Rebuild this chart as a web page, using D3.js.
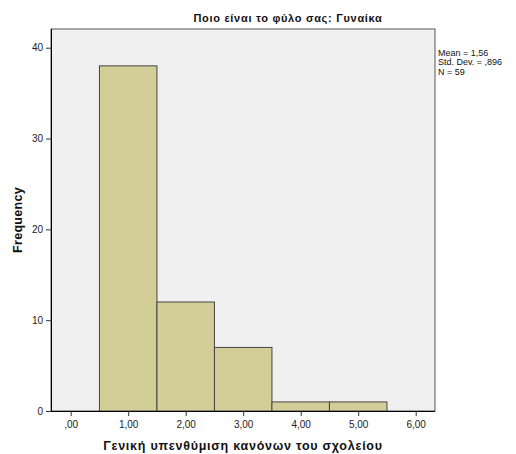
<!DOCTYPE html>
<html><head><meta charset="utf-8">
<script src="https://cdn.jsdelivr.net/npm/d3@7"></script>
<style>body{margin:0;background:#fff;} text{font-family:"Liberation Sans",Arial,sans-serif;}</style>
</head><body>
<svg id="c" width="516" height="454"></svg>
<script>
const binStarts = [0.5, 1.5, 2.5, 3.5, 4.5];
const binEnds = [1.5, 2.5, 3.5, 4.5, 5.5];
const frequencies = [38, 12, 7, 1, 1];
const xTicks = [0, 1, 2, 3, 4, 5, 6];
const xTickLabels = [",00", "1,00", "2,00", "3,00", "4,00", "5,00", "6,00"];
const yTicks = [0, 10, 20, 30, 40];
const statsLines = ["Mean = 1,56", "Std. Dev. = ,896", "N = 59"];
const title = "Ποιο είναι το φύλο σας: Γυναίκα";
const xTitle = "Γενική υπενθύμιση κανόνων του σχολείου";
const yTitle = "Frequency";

const svg = d3.select("#c");
const L = 51, R = 435, T = 29, B = 411;
const x = d3.scaleLinear().domain([0, 6]).range([70.7, 415.7]);
const y = d3.scaleLinear().domain([0, 40]).range([B, 47.7]);

svg.append("rect").attr("x", L).attr("y", T).attr("width", R - L).attr("height", B - T)
  .attr("fill", "#f0f0f0").attr("stroke", "#555").attr("stroke-width", 1);

svg.append("g").selectAll("rect").data(frequencies).join("rect")
  .attr("x", (d, i) => x(binStarts[i]))
  .attr("width", (d, i) => x(binEnds[i]) - x(binStarts[i]))
  .attr("y", d => y(d))
  .attr("height", d => B - y(d))
  .attr("fill", "#d3ce97").attr("stroke", "#444").attr("stroke-width", 1);

const xa = svg.append("g").attr("transform", `translate(0,${B})`)
  .call(d3.axisBottom(x).tickValues(xTicks).tickSize(5).tickSizeOuter(0)
    .tickFormat((d, i) => xTickLabels[i]));
xa.select(".domain").attr("d", `M${L},0.5H${R}`).attr("stroke", "#000");
xa.selectAll("text").attr("font-size", 10).attr("fill", "#222").attr("dy", "0.85em");
xa.selectAll(".tick line").attr("stroke", "#333");

const ya = svg.append("g").attr("transform", `translate(${L},0)`)
  .call(d3.axisLeft(y).tickValues(yTicks).tickSize(5).tickSizeOuter(0));
ya.select(".domain").attr("d", `M0.5,${T}V${B}`).attr("stroke", "#000");
ya.selectAll("text").attr("font-size", 10).attr("fill", "#222");
ya.selectAll(".tick line").attr("stroke", "#333");

svg.append("text").attr("x", 288).attr("y", 21.5).attr("text-anchor", "middle")
  .attr("font-size", 11).attr("font-weight", "bold").attr("letter-spacing", 0.7)
  .attr("fill", "#111").text(title);

svg.append("text").attr("x", 243).attr("y", 450).attr("text-anchor", "middle")
  .attr("font-size", 12.5).attr("font-weight", "bold").attr("letter-spacing", 0.75)
  .attr("fill", "#111").text(xTitle);

svg.append("text").attr("transform", "translate(22,220) rotate(-90)").attr("text-anchor", "middle")
  .attr("font-size", 12.5).attr("font-weight", "bold").attr("letter-spacing", 0.3)
  .attr("fill", "#111").text(yTitle);

svg.append("g").selectAll("text").data(statsLines).join("text")
  .attr("x", 438).attr("y", (d, i) => 55.5 + i * 9.5)
  .attr("font-size", 9).attr("fill", "#111").text(d => d);
</script>
</body></html>
